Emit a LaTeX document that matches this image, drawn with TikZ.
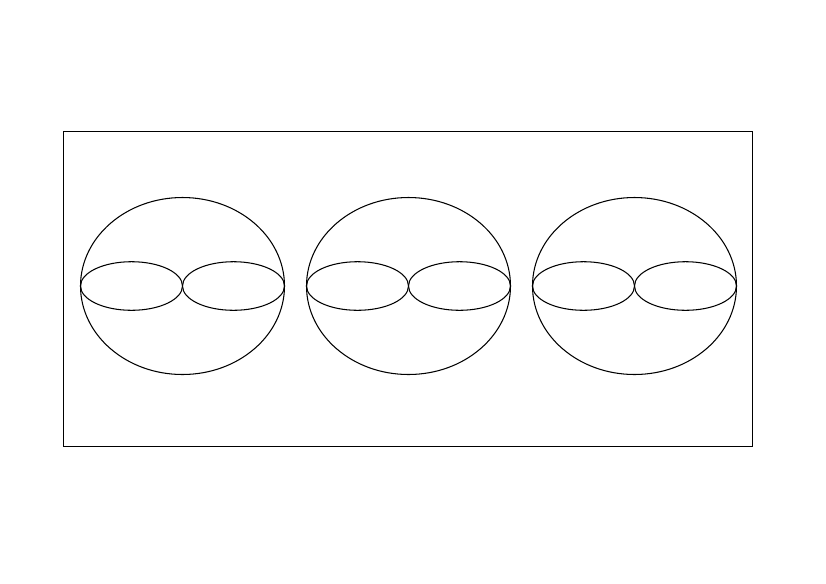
\documentclass[tikz,border=0pt]{standalone}
\usepackage{tikz}
\usetikzlibrary{backgrounds, positioning}

\tikzset{outline/.style={draw=black, line width=0.6pt}}

\begin{document}
\begin{tikzpicture}[x=0.02cm, y=-0.02cm]
\useasboundingbox (0,0) rectangle (826,583);

% frame
\draw[outline] (63.5,131.5) rectangle (752.5,446.5);

% three cells, each with two inner lobes
\foreach \cx in {182.5, 408.5, 634.5} {
  \draw[outline] (\cx,286) ellipse [x radius=102, y radius=88.5];
  \draw[outline] (\cx-51,286) ellipse [x radius=51, y radius=24.3];
  \draw[outline] (\cx+51,286) ellipse [x radius=51, y radius=24.3];
}
\end{tikzpicture}
\end{document}
